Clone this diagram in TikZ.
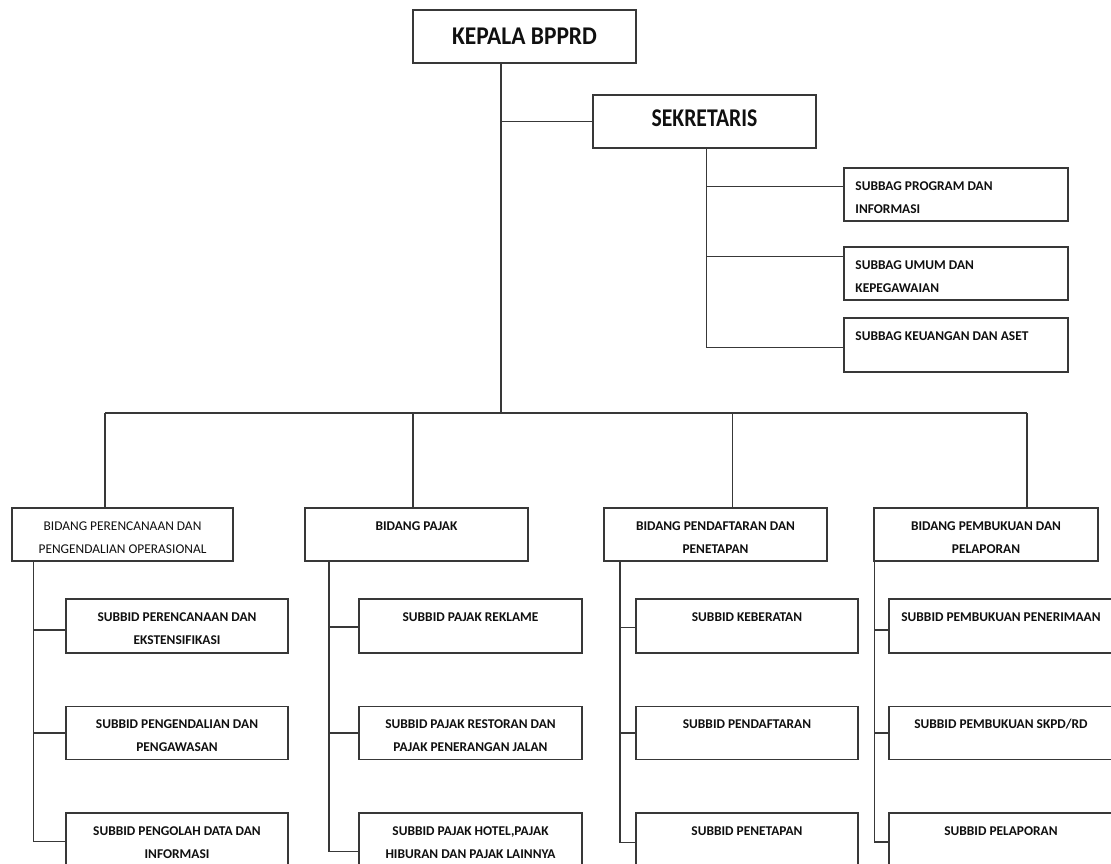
\documentclass[tikz,border=0pt]{standalone}
\usepackage{fontspec}
\setmainfont{Carlito}
\definecolor{linec}{HTML}{383838}
\definecolor{txtc}{HTML}{101010}
\begin{document}
\begin{tikzpicture}[x=1pt,y=-1pt,
  box/.style={draw=linec, line width=1.5pt, rectangle, inner sep=0pt, fill=white},
  conn/.style={draw=linec, line width=1.5pt},
  txt/.style={font=\fontsize{13.4}{23}\selectfont\bfseries, align=center, inner sep=0pt, text=txtc},
  txtr/.style={font=\fontsize{13.4}{23}\selectfont, align=center, inner sep=0pt, text=txtc},
  txtl/.style={font=\fontsize{13.4}{23}\selectfont\bfseries, align=left, inner sep=0pt, text=txtc, anchor=west},
  big/.style={font=\fontsize{25.5}{28}\selectfont\bfseries, text=txtc, inner sep=0pt}
]
\useasboundingbox (0,0) rectangle (1111,864);
\clip (0,0) rectangle (1111,864);

% top boxes
\node[box, minimum width=223pt, minimum height=53pt] (k) at (524.5,36.5) {};
\node[big] (tk) at (k.center) {\scalebox{0.92}[1]{KEPALA BPPRD}};
\node[box, minimum width=223pt, minimum height=53pt] (s) at (704.5,121.5) {};
\node[big] (ts) at ([yshift=3pt]s.center) {\scalebox{0.85}[1]{SEKRETARIS}};

% subbag
\node[box, minimum width=224pt, minimum height=53pt] (sb1) at (956,194.5) {};
\node[box, minimum width=224pt, minimum height=53pt] (sb2) at (956,273.5) {};
\node[box, minimum width=224pt, minimum height=54pt] (sb3) at (956,345) {};
\node[txtl] (tsb1) at ([xshift=12pt,yshift=-30pt]sb1.north west) {SUBBAG PROGRAM DAN\strut\\INFORMASI\strut};
\node[txtl] (tsb2) at ([xshift=12pt,yshift=-30pt]sb2.north west) {SUBBAG UMUM DAN\strut\\KEPEGAWAIAN\strut};
\node[txtl] (tsb3) at ([xshift=12pt,yshift=-30pt]sb3.north west) {SUBBAG KEUANGAN DAN ASET\strut\\\strut};

% bidang
\node[box, minimum width=221pt, minimum height=53pt] (b1) at (122.5,534.5) {};
\node[box, minimum width=223pt, minimum height=53pt] (b2) at (416.5,534.5) {};
\node[box, minimum width=223pt, minimum height=53pt] (b3) at (715.5,534.5) {};
\node[box, minimum width=224pt, minimum height=53pt] (b4) at (986,534.5) {};
\node[txtr] (tb1) at ([yshift=-30pt]b1.north) {BIDANG PERENCANAAN DAN\strut\\PENGENDALIAN OPERASIONAL\strut};
\node[txt] (tb2) at ([yshift=-30pt]b2.north) {BIDANG PAJAK\strut\\\strut};
\node[txt] (tb3) at ([yshift=-30pt]b3.north) {BIDANG PENDAFTARAN DAN\strut\\PENETAPAN\strut};
\node[txt] (tb4) at ([yshift=-30pt]b4.north) {BIDANG PEMBUKUAN DAN\strut\\PELAPORAN\strut};

% subbid column 1
\node[box, minimum width=222pt, minimum height=54pt] (p11) at (177,626) {};
\node[box, minimum width=222pt, minimum height=53pt] (p12) at (177,733) {};
\node[box, minimum width=222pt, minimum height=53pt] (p13) at (177,839.5) {};
% column 2
\node[box, minimum width=223pt, minimum height=54pt] (p21) at (470.5,626) {};
\node[box, minimum width=223pt, minimum height=53pt] (p22) at (470.5,733) {};
\node[box, minimum width=223pt, minimum height=53pt] (p23) at (470.5,839.5) {};
% column 3
\node[box, minimum width=222pt, minimum height=54pt] (p31) at (747,626) {};
\node[box, minimum width=222pt, minimum height=53pt] (p32) at (747,733) {};
\node[box, minimum width=222pt, minimum height=53pt] (p33) at (747,839.5) {};
% column 4
\node[box, minimum width=224pt, minimum height=54pt] (p41) at (1001,626) {};
\node[box, minimum width=224pt, minimum height=53pt] (p42) at (1001,733) {};
\node[box, minimum width=224pt, minimum height=53pt] (p43) at (1001,839.5) {};

\node[txt] (tp11) at ([yshift=-30pt]p11.north) {SUBBID PERENCANAAN DAN\strut\\EKSTENSIFIKASI\strut};
\node[txt] (tp12) at ([yshift=-30pt]p12.north) {SUBBID PENGENDALIAN DAN\strut\\PENGAWASAN\strut};
\node[txt] (tp13) at ([yshift=-30pt]p13.north) {SUBBID PENGOLAH DATA DAN\strut\\INFORMASI\strut};
\node[txt] (tp21) at ([yshift=-30pt]p21.north) {SUBBID PAJAK REKLAME\strut\\\strut};
\node[txt] (tp22) at ([yshift=-30pt]p22.north) {SUBBID PAJAK RESTORAN DAN\strut\\PAJAK PENERANGAN JALAN\strut};
\node[txt] (tp23) at ([yshift=-30pt]p23.north) {SUBBID PAJAK HOTEL,PAJAK\strut\\HIBURAN DAN PAJAK LAINNYA\strut};
\node[txt] (tp31) at ([yshift=-30pt]p31.north) {SUBBID KEBERATAN\strut\\\strut};
\node[txt] (tp32) at ([yshift=-30pt]p32.north) {SUBBID PENDAFTARAN\strut\\\strut};
\node[txt] (tp33) at ([yshift=-30pt]p33.north) {SUBBID PENETAPAN\strut\\\strut};
\node[txt] (tp41) at ([yshift=-30pt]p41.north) {SUBBID PEMBUKUAN PENERIMAAN\strut\\\strut};
\node[txt] (tp42) at ([yshift=-30pt]p42.north) {SUBBID PEMBUKUAN SKPD/RD\strut\\\strut};
\node[txt] (tp43) at ([yshift=-30pt]p43.north) {SUBBID PELAPORAN\strut\\\strut};

% coordinates
\coordinate (kx) at (501,413);
\coordinate (sx) at (706.5,347.3);
\coordinate (d1) at (105,413);
\coordinate (d2) at (413,413);
\coordinate (d3) at (732.5,413);
\coordinate (d4) at (1027,413);
\coordinate (v1) at (33.5,841.7);
\coordinate (v2) at (329,851.7);
\coordinate (v3) at (620,842.7);
\coordinate (v4) at (874.5,842);

% connectors: top
\draw[conn] (k.south -| kx) -- (kx);
\draw[conn] (s.west) -- (s.west -| kx);
\draw[conn] (s.south -| sx) -- (sx) -- (sx -| sb3.west);
\draw[conn] ([yshift=7.8pt]sb1.west) -- ([yshift=7.8pt]sb1.west -| sx);
\draw[conn] ([yshift=16.8pt]sb2.west) -- ([yshift=16.8pt]sb2.west -| sx);

% bus
\draw[conn] (d1) -- (d4);
\draw[conn] (d1) -- (d1 |- b1.north);
\draw[conn] (d2) -- (d2 |- b2.north);
\draw[conn] (d3) -- (d3 |- b3.north);
\draw[conn] (d4) -- (d4 |- b4.north);

% column verticals
\draw[conn] (b1.south -| v1) -- (v1) -- (v1 -| p13.west);
\draw[conn] (b2.south -| v2) -- (v2) -- (v2 -| p23.west);
\draw[conn] (b3.south -| v3) -- (v3) -- (v3 -| p33.west);
\draw[conn] (b4.south -| v4) -- (v4) -- (v4 -| p43.west);

% branches
\draw[conn] ([yshift=-4pt]p11.west) -- ([yshift=-4pt]p11.west -| v1);
\draw[conn] (p12.west) -- (p12.west -| v1);
\draw[conn] ([yshift=-1pt]p21.west) -- ([yshift=-1pt]p21.west -| v2);
\draw[conn] (p22.west) -- (p22.west -| v2);
\draw[conn] ([yshift=-1.7pt]p31.west) -- ([yshift=-1.7pt]p31.west -| v3);
\draw[conn] (p32.west) -- (p32.west -| v3);
\draw[conn] ([yshift=-4pt]p41.west) -- ([yshift=-4pt]p41.west -| v4);
\draw[conn] (p42.west) -- (p42.west -| v4);
\end{tikzpicture}
\end{document}
